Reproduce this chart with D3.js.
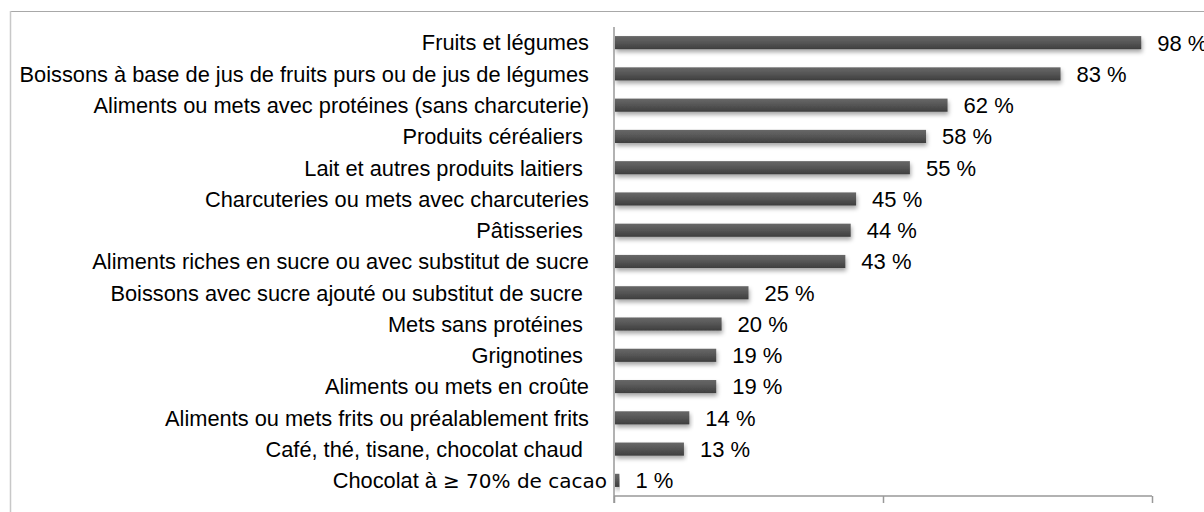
<!DOCTYPE html>
<html><head><meta charset="utf-8">
<script src="https://cdn.jsdelivr.net/npm/d3@7"></script>
<style>body{margin:0;background:#fff}svg{display:block}</style>
</head><body><svg id="c" width="1204" height="512"></svg>
<script>
const categories = [
  "Fruits et légumes",
  "Boissons à base de jus de fruits purs ou de jus de légumes",
  "Aliments ou mets avec protéines (sans charcuterie)",
  "Produits céréaliers ",
  "Lait et autres produits laitiers ",
  "Charcuteries ou mets avec charcuteries",
  "Pâtisseries ",
  "Aliments riches en sucre ou avec substitut de sucre",
  "Boissons avec sucre ajouté ou substitut de sucre ",
  "Mets sans protéines ",
  "Grignotines ",
  "Aliments ou mets en croûte",
  "Aliments ou mets frits ou préalablement frits",
  "Café, thé, tisane, chocolat chaud ",
  "Chocolat à ≥ 70% de cacao"
];
const values = [98, 83, 62, 58, 55, 45, 44, 43, 25, 20, 19, 19, 14, 13, 1];
const xTicks = [0, 50, 100];

const svg = d3.select("#c");
const defs = svg.append("defs");
const g1 = defs.append("linearGradient").attr("id","bg").attr("x1",0).attr("y1",0).attr("x2",0).attr("y2",1);
g1.append("stop").attr("offset","0%").attr("stop-color","#686868");
g1.append("stop").attr("offset","45%").attr("stop-color","#575757");
g1.append("stop").attr("offset","100%").attr("stop-color","#3e3e3e");
const f = defs.append("filter").attr("id","sh").attr("x","-5%").attr("y","-50%").attr("width","110%").attr("height","220%");
f.append("feDropShadow").attr("dx",1).attr("dy",3).attr("stdDeviation",2).attr("flood-color","#000").attr("flood-opacity",0.35);

// frame
svg.append("line").attr("x1",10).attr("x2",1204).attr("y1",11.5).attr("y2",11.5).attr("stroke","#a8a8a8").attr("stroke-width",1);
svg.append("line").attr("x1",10.5).attr("x2",10.5).attr("y1",11).attr("y2",512).attr("stroke","#c8c8c8").attr("stroke-width",1.5);

const x = d3.scaleLinear().domain([0,100]).range([614,1152]);
const y = d3.scaleBand().domain(categories).range([27,496]).paddingInner(0.58).paddingOuter(0.29);

// bars
svg.append("g").selectAll("rect").data(values).join("rect")
  .attr("x", x(0)+1)
  .attr("y", (d,i)=>y(categories[i]))
  .attr("width", d=>x(d)-x(0)-1)
  .attr("height", y.bandwidth())
  .attr("fill","url(#bg)")
  .attr("filter","url(#sh)");

// value labels
svg.append("g").selectAll("text").data(values).join("text")
  .attr("x", d=>x(d)+16)
  .attr("y", (d,i)=>y(categories[i])+y.bandwidth()/2)
  .attr("dy","0.36em")
  .attr("font-family","'Liberation Sans', Arial, sans-serif")
  .attr("font-size",22)
  .attr("fill","#000")
  .text(d=>d+" %");

// category labels
const lab = svg.append("g").selectAll("text").data(categories).join("text")
  .attr("x", d => d.indexOf("≥") >= 0 ? 607 : 589)
  .attr("y", d=>y(d)+y.bandwidth()/2)
  .attr("dy","0.36em")
  .attr("text-anchor","end")
  .attr("font-family","'Liberation Sans', Arial, sans-serif")
  .attr("font-size",21.8)
  .attr("fill","#000")
  .style("white-space","pre");
lab.each(function(d){
  const t = d3.select(this);
  if (d.indexOf("≥") >= 0) {
    const i = d.indexOf("≥");
    t.append("tspan").text(d.slice(0,i));
    t.append("tspan").attr("font-family","'DejaVu Sans', sans-serif").attr("font-size",20).text(d.slice(i));
  } else t.text(d);
});

// axes
const xAxis = d3.axisBottom(x).tickValues(xTicks).tickSize(7).tickFormat("");
const gx = svg.append("g").attr("transform","translate(0,496)").call(xAxis);
gx.select(".domain").attr("stroke","#999").attr("stroke-width",1.5).attr("d","M"+x(0)+",0H"+x(100));
gx.selectAll(".tick line").attr("stroke","#999").attr("stroke-width",1.5);
svg.append("line").attr("x1",614).attr("x2",614).attr("y1",27).attr("y2",503).attr("stroke","#999").attr("stroke-width",1.5);
</script></body></html>
